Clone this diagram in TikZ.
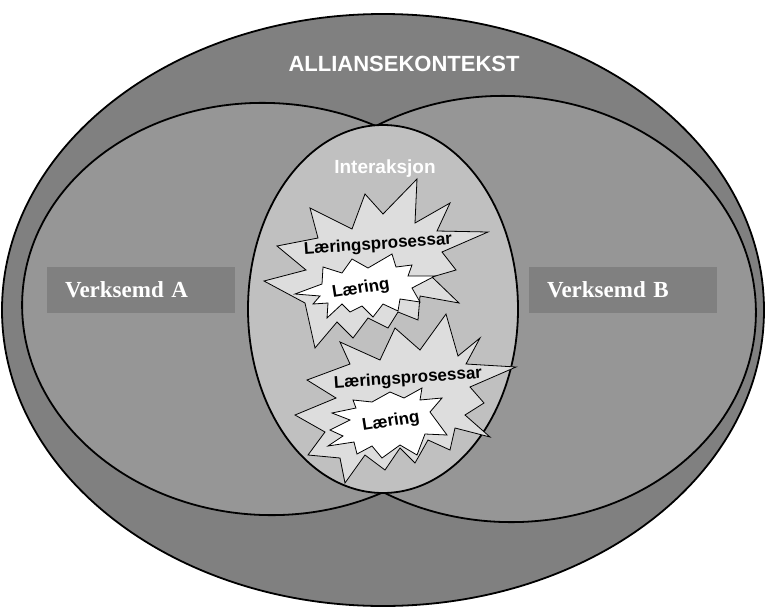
\documentclass[tikz,border=0pt]{standalone}
\usepackage{fontspec}
\newfontfamily\labelsans{Liberation Sans}
\newfontfamily\labelserif{Liberation Serif}
\definecolor{ctxgray}{HTML}{808080}
\definecolor{firmgray}{HTML}{969696}
\definecolor{midgray}{HTML}{C0C0C0}
\definecolor{burstgray}{HTML}{DDDDDD}
\definecolor{tagbox}{HTML}{808080}

\begin{document}
\begin{tikzpicture}[x=1pt,y=-1pt,
  zone/.style={draw=black,line width=1.8pt},
  burst/.style={draw=black,line width=0.8pt,line join=miter},
  headtext/.style={text=white,font=\labelsans\bfseries\fontsize{22}{25}\selectfont,inner sep=0pt},
  midtext/.style={text=white,font=\labelsans\bfseries\fontsize{19}{22}\selectfont,inner sep=0pt},
  bursttext/.style={text=black,font=\labelsans\bfseries\fontsize{17}{20}\selectfont,inner sep=0pt},
  firmtag/.style={fill=tagbox,text=white,font=\labelserif\bfseries\fontsize{23}{26}\selectfont,
    minimum width=188pt,minimum height=46pt,inner sep=0pt,text width=152pt,align=left}]
\useasboundingbox (0,0) rectangle (766,608);

% alliance context
\draw[zone,fill=ctxgray] (383,310) ellipse [x radius=381pt,y radius=296pt];

% the two firms
\draw[zone,fill=firmgray,rotate around={-3:(267,309)}] (267,309) ellipse [x radius=245pt,y radius=206pt];
\draw[zone,fill=firmgray,rotate around={-3:(507,309)}] (507,309) ellipse [x radius=249pt,y radius=213pt];

% interaction zone
\draw[zone,fill=midgray] (383,309) ellipse [x radius=135pt,y radius=184pt];

% upper learning process burst
\draw[burst,fill=burstgray] (264,281) -- (306,270) -- (277,246) -- (318,238) -- (310,208)
  -- (352,229) -- (365,194) -- (383,214) -- (417,179) -- (415,223) -- (450,203)
  -- (437,231) -- (488,232) -- (442,252) -- (456,270) -- (432,277) -- (459,303)
  -- (420,296) -- (418,320) -- (398,312) -- (388,328) -- (368,318) -- (353,338)
  -- (337,322) -- (315,348) -- (305,303) -- cycle;
\draw[burst,fill=white] (295,294) -- (322,284) -- (323,267) -- (342,273) -- (352,259)
  -- (368,268) -- (392,254) -- (396,267) -- (412,265) -- (408,276) -- (435,276)
  -- (412,288) -- (420,302) -- (400,299) -- (398,311) -- (383,304) -- (373,317)
  -- (362,306) -- (350,312) -- (342,304) -- (327,318) -- (328,303) -- (313,304)
  -- (320,296) -- cycle;

% lower learning process burst
\draw[burst,fill=burstgray] (340,342) -- (380,360) -- (395,328) -- (420,350) -- (446,314)
  -- (458,356) -- (480,338) -- (466,364) -- (516,367) -- (470,387) -- (484,403)
  -- (465,415) -- (490,437) -- (455,428) -- (450,450) -- (428,440) -- (415,463)
  -- (400,448) -- (385,470) -- (365,455) -- (345,483) -- (340,458) -- (308,455)
  -- (325,432) -- (295,415) -- (336,398) -- (307,380) -- (350,364) -- cycle;
\draw[burst,fill=white] (330,430) -- (350,420) -- (332,413) -- (356,408) -- (353,400)
  -- (372,402) -- (390,392) -- (404,398) -- (422,388) -- (420,400) -- (442,398)
  -- (430,412) -- (447,435) -- (425,434) -- (417,455) -- (400,445) -- (382,458)
  -- (372,446) -- (357,454) -- (354,442) -- (328,446) -- (343,436) -- cycle;

% labels
\node[headtext,anchor=base] (context) at (404,71) {ALLIANSEKONTEKST};
\node[midtext,anchor=base] (interact) at (385,173) {Interaksjon};
\node[firmtag] (firmA) at (141,290) {Verksemd A};
\node[firmtag] (firmB) at (623,290) {Verksemd B};
\node[bursttext,rotate=4] (procUp) at (378,245) {Læringsprosessar};
\node[bursttext,rotate=9] (learnUp) at (361,289) {Læring};
\node[bursttext,rotate=4] (procLow) at (408,379) {Læringsprosessar};
\node[bursttext,rotate=9] (learnLow) at (391,422) {Læring};
\end{tikzpicture}
\end{document}
